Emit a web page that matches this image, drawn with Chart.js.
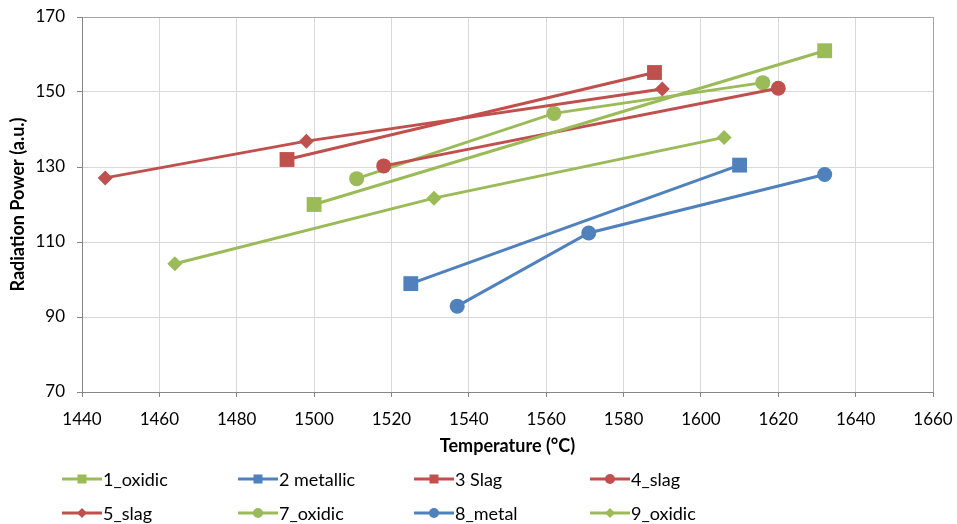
<!DOCTYPE html>
<html>
<head>
<meta charset="utf-8">
<script src="https://cdn.jsdelivr.net/npm/chart.js@4.4.1/dist/chart.umd.min.js"></script>
<style>
  html, body { margin: 0; padding: 0; background: #fff; }
  #wrap { position: relative; width: 957px; height: 524px; }
  #c { position: absolute; left: 0; top: 0; }
  #legend { position: absolute; left: 0; top: 0; width: 957px; height: 524px; pointer-events: none; }
  .li { position: absolute; display: flex; align-items: center; font-family: Lato, "Open Sans", sans-serif; font-size: 18px; color: #000; white-space: nowrap; }
  .li svg { margin-right: 1px; }
</style>
</head>
<body>
<div id="wrap">
  <canvas id="c" width="957" height="524"></canvas>
  <div id="legend"></div>
</div>
<script>
// ---- data ----
const seriesNames = ["1_oxidic", "2 metallic", "3 Slag", "4_slag", "5_slag", "7_oxidic", "8_metal", "9_oxidic"];

const oxidic1_T = [1500, 1632];
const oxidic1_P = [120, 161];

const metallic2_T = [1525, 1610];
const metallic2_P = [98.9, 130.5];

const slag3_T = [1493, 1588];
const slag3_P = [132, 155.2];

const slag4_T = [1518, 1620];
const slag4_P = [130.3, 151];

const slag5_T = [1446, 1498, 1590];
const slag5_P = [127.1, 136.9, 150.8];

const oxidic7_T = [1511, 1562, 1616];
const oxidic7_P = [126.9, 144.3, 152.5];

const metal8_T = [1537, 1571, 1632];
const metal8_P = [92.9, 112.4, 128];

const oxidic9_T = [1464, 1531, 1606];
const oxidic9_P = [104.2, 121.7, 137.9];

const xMin = 1440, xMax = 1660, xStep = 20;
const yMin = 70, yMax = 170, yStep = 20;

// ---- styles ----
const GREEN = "#9BBB59", BLUE = "#4F81BD", RED = "#C0504D";
const seriesT = [oxidic1_T, metallic2_T, slag3_T, slag4_T, slag5_T, oxidic7_T, metal8_T, oxidic9_T];
const seriesP = [oxidic1_P, metallic2_P, slag3_P, slag4_P, slag5_P, oxidic7_P, metal8_P, oxidic9_P];
const colors  = [GREEN, BLUE, RED, RED, RED, GREEN, BLUE, GREEN];
const markers = ["rect", "rect", "rect", "circle", "rectRot", "circle", "circle", "rectRot"];
const radius  = { rect: 10.5, circle: 7.5, rectRot: 7.5 };

const datasets = seriesNames.map((name, i) => ({
  label: name,
  data: seriesT[i].map((t, j) => ({ x: t, y: seriesP[i][j] })),
  showLine: true,
  borderColor: colors[i],
  backgroundColor: colors[i],
  borderWidth: 3,
  pointStyle: markers[i],
  pointRadius: radius[markers[i]],
  pointHoverRadius: radius[markers[i]],
  pointBorderWidth: 0,
  tension: 0
}));

const FONT = "Lato, 'Open Sans', sans-serif";

const chart = new Chart(document.getElementById("c"), {
  type: "scatter",
  data: { datasets },
  options: {
    responsive: false,
    animation: false,
    layout: { padding: { top: 17, right: 24, bottom: 67, left: 0 } },
    plugins: { legend: { display: false }, tooltip: { enabled: false } },
    scales: {
      x: {
        type: "linear", min: xMin, max: xMax,
        ticks: { stepSize: xStep, color: "#000", font: { family: FONT, size: 17 }, padding: 12, maxRotation: 0,
                 callback: (v) => String(v) },
        grid: {
          color: (ctx) => (ctx.tick && ctx.tick.value === xMax) ? "#A6A6A6" : "#D9D9D9",
          lineWidth: 1, tickLength: 5, tickColor: "#868686"
        },
        border: { color: "#868686", width: 1 },
        title: { display: true, text: "Temperature (°C)", color: "#000", font: { family: FONT, size: 18, weight: "bold" }, padding: { top: 0, bottom: 0 } },
        afterFit: (s) => { s.height = 65; s.paddingRight = 0; s.paddingLeft = 0; }
      },
      y: {
        type: "linear", min: yMin, max: yMax,
        ticks: { stepSize: yStep, color: "#000", font: { family: FONT, size: 17 }, padding: 12,
                 callback: (v) => String(v) },
        grid: {
          color: (ctx) => (ctx.tick && ctx.tick.value === yMax) ? "#A6A6A6" : "#D9D9D9",
          lineWidth: 1, tickLength: 5, tickColor: "#868686"
        },
        border: { color: "#868686", width: 1 },
        title: { display: true, text: "Radiation Power (a.u.)", color: "#000", font: { family: FONT, size: 18, weight: "bold" }, padding: { top: 7, bottom: 0 } },
        afterFit: (s) => { s.width = 82; s.paddingTop = 0; s.paddingBottom = 0; }
      }
    }
  }
});

// ---- HTML legend built from the chart's datasets (4 columns x 2 rows) ----
const legend = document.getElementById("legend");
chart.data.datasets.forEach((ds, i) => {
  const col = i % 4, row = Math.floor(i / 4);
  const item = document.createElement("div");
  item.className = "li";
  item.style.left = (62 + col * 176) + "px";
  item.style.top = (467 + row * 34) + "px";
  item.style.height = "24px";
  let mark = "";
  if (ds.pointStyle === "rect") mark = `<rect x="15.5" y="7.5" width="9" height="9" fill="${ds.borderColor}"/>`;
  else if (ds.pointStyle === "circle") mark = `<circle cx="20" cy="12" r="5" fill="${ds.borderColor}"/>`;
  else mark = `<polygon points="20,7 25,12 20,17 15,12" fill="${ds.borderColor}"/>`;
  item.innerHTML = `<svg width="40" height="24" viewBox="0 0 40 24"><line x1="0" y1="12" x2="40" y2="12" stroke="${ds.borderColor}" stroke-width="3"/>${mark}</svg><span>${ds.label}</span>`;
  legend.appendChild(item);
});
</script>
</body>
</html>
